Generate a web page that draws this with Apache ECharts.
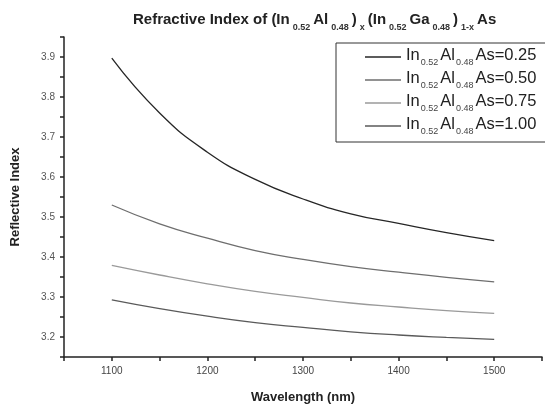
<!DOCTYPE html>
<html>
<head>
<meta charset="utf-8">
<script src="https://cdn.jsdelivr.net/npm/echarts@6/dist/echarts.min.js"></script>
<style>html,body{margin:0;padding:0;background:#fff;}#c{width:545px;height:409px;}</style>
</head>
<body>
<div id="c"></div>
<script>
var wavelengths = [1100, 1150, 1200, 1250, 1300, 1350, 1400, 1450, 1500];
var seriesNames = ['0.25', '0.50', '0.75', '1.00'];
var x025 = [3.897, 3.760, 3.662, 3.594, 3.545, 3.508, 3.484, 3.461, 3.441];
var x050 = [3.530, 3.483, 3.447, 3.416, 3.394, 3.376, 3.362, 3.349, 3.338];
var x075 = [3.379, 3.355, 3.333, 3.314, 3.299, 3.285, 3.275, 3.266, 3.259];
var x100 = [3.293, 3.271, 3.252, 3.236, 3.224, 3.213, 3.205, 3.199, 3.194];
var yTickLabels = ['3.2', '3.3', '3.4', '3.5', '3.6', '3.7', '3.8', '3.9'];
var xTickLabels = ['1100', '1200', '1300', '1400', '1500'];

var allValues = [x025, x050, x075, x100];
var colors = ['#262626', '#6e6e6e', '#9a9a9a', '#5a5a5a'];
var FONT = 'Liberation Sans, Arial, sans-serif';

function pairs(vals) {
  return wavelengths.map(function (w, i) { return [w, vals[i]]; });
}

var chart = echarts.init(document.getElementById('c'), null, {renderer: 'canvas'});
chart.setOption({
  backgroundColor: '#fff',
  animation: false,
  title: {
    text: '{m|Refractive Index of (In}{s|0.52}{m|Al}{s|0.48}{m|)}{s|x}{m|(In}{s|0.52}{m|Ga}{s|0.48}{m|)}{s|1-x}{m|As}',
    left: 128,
    top: 7,
    textStyle: {
      fontFamily: FONT, fontSize: 15, fontWeight: 'bold', color: '#222',
      rich: {
        m: {fontFamily: FONT, fontSize: 15, fontWeight: 'bold', color: '#222', lineHeight: 20, verticalAlign: 'top'},
        s: {fontFamily: FONT, fontSize: 9, fontWeight: 'bold', color: '#333', lineHeight: 20, verticalAlign: 'bottom', padding: [0, 3, 0, 3]}
      }
    }
  },
  legend: {
    orient: 'vertical',
    left: 336,
    top: 43,
    padding: [4, 40, 6, 29],
    itemGap: 3,
    itemWidth: 36,
    itemHeight: 1.3,
    icon: 'rect',
    borderColor: '#333',
    borderWidth: 1,
    data: seriesNames,
    formatter: function (name) {
      return '{m|In}{s|0.52}{m|Al}{s|0.48}{m|As=' + name + '}';
    },
    textStyle: {
      fontFamily: FONT, fontSize: 16.5, color: '#222',
      rich: {
        m: {fontFamily: FONT, fontSize: 16.5, color: '#222', lineHeight: 20, verticalAlign: 'top'},
        s: {fontFamily: FONT, fontSize: 9, color: '#444', lineHeight: 20, verticalAlign: 'bottom', padding: [0, 2, 0, 1]}
      }
    }
  },
  grid: {left: 64, top: 37, right: -6, bottom: 52, containLabel: false},
  xAxis: {
    type: 'value',
    min: 1050,
    max: 1550,
    interval: 50,
    name: 'Wavelength (nm)',
    nameLocation: 'middle',
    nameGap: 34,
    nameTextStyle: {fontFamily: FONT, fontSize: 13, fontWeight: 'bold', color: '#222'},
    axisLine: {show: true, lineStyle: {color: '#222', width: 1.5}},
    axisTick: {show: true, length: 4, lineStyle: {color: '#222', width: 1.5}},
    axisLabel: {
      fontFamily: FONT, fontSize: 10, color: '#444', margin: 9,
      formatter: function (v) {
        var s = String(Math.round(v));
        return xTickLabels.indexOf(s) >= 0 ? s : '';
      }
    },
    splitLine: {show: false}
  },
  yAxis: {
    type: 'value',
    min: 3.15,
    max: 3.95,
    interval: 0.05,
    name: 'Reflective Index',
    nameLocation: 'middle',
    nameGap: 42,
    nameTextStyle: {fontFamily: FONT, fontSize: 13, fontWeight: 'bold', color: '#222'},
    axisLine: {show: true, lineStyle: {color: '#222', width: 1.5}},
    axisTick: {show: true, length: 4, lineStyle: {color: '#222', width: 1.5}},
    axisLabel: {
      fontFamily: FONT, fontSize: 10, color: '#555', margin: 9,
      formatter: function (v) {
        var s = (Math.round(v * 100) / 100).toFixed(1);
        var ok = Math.abs(v * 10 - Math.round(v * 10)) < 1e-6;
        return ok && yTickLabels.indexOf(s) >= 0 ? s : '';
      }
    },
    splitLine: {show: false}
  },
  series: seriesNames.map(function (n, i) {
    return {
      name: n,
      type: 'line',
      smooth: true,
      symbol: 'none',
      showSymbol: false,
      data: pairs(allValues[i]),
      lineStyle: {color: colors[i], width: 1.3},
      itemStyle: {color: colors[i]}
    };
  })
});
</script>
</body>
</html>
